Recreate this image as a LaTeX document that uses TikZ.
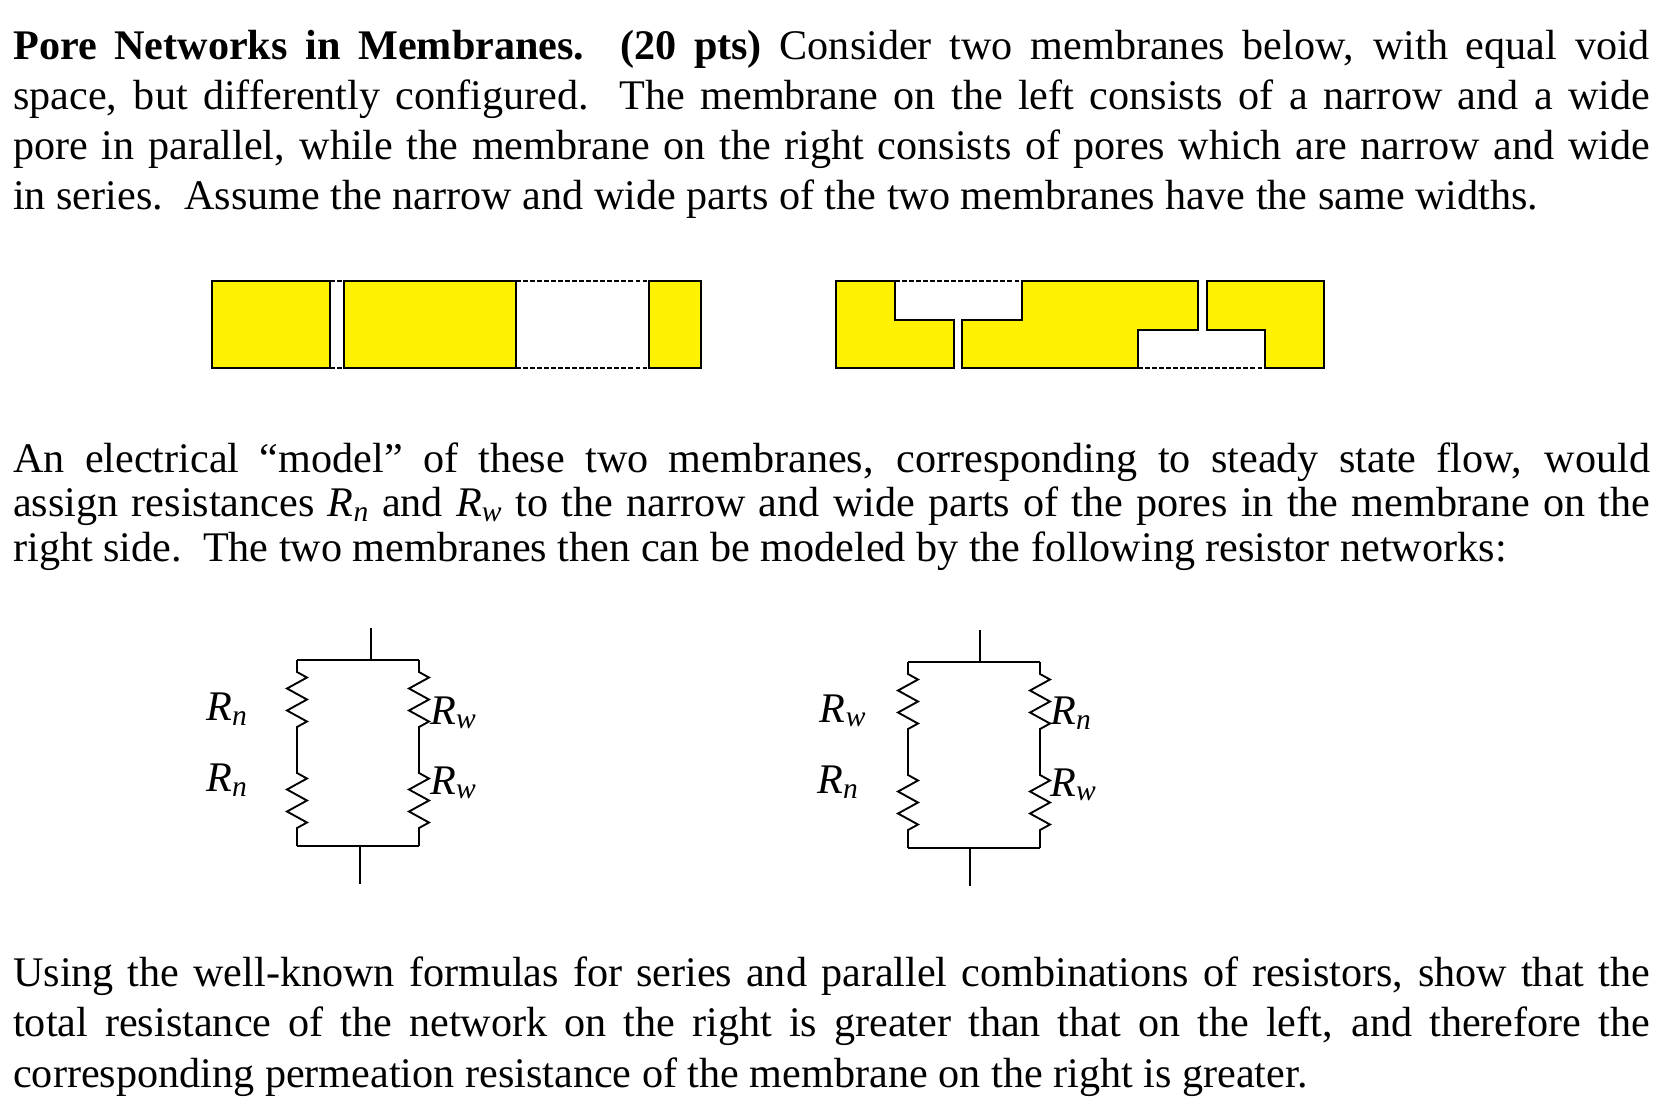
\documentclass[tikz,border=0pt]{standalone}
\usepackage{fontspec}
\setmainfont{Liberation Serif}
\usetikzlibrary{decorations.pathmorphing}
\begin{document}
\begin{tikzpicture}[x=0.03cm,y=-0.03cm,
  mem/.style={draw=black,fill=yellow,line width=2.2pt,line join=miter},
  void/.style={dashed,line width=1.2pt,dash pattern=on 4pt off 2pt},
  wire/.style={line width=1.4pt},
  bar/.style={line width=2.4pt},
  res/.style={line width=1.6pt,decorate,decoration={zigzag,segment length=0.66cm,amplitude=0.3cm,pre length=0.15cm,post length=0.15cm}},
  para/.style={anchor=north west,inner sep=0pt,text width=49.1cm,align=justify,font=\fontsize{36}{42.7}\selectfont},
  lab/.style={font=\fontsize{36}{40}\selectfont\itshape,inner sep=0pt}]
\useasboundingbox (0,0) rectangle (1677,1110);
% text
\node[para] (p1) at (13,30) {\textbf{Pore Networks in Membranes. (20 pts)} Consider two membranes below, with equal void\linebreak space, but differently configured.\ \ The membrane on the left consists of a narrow and a wide\linebreak pore in parallel, while the membrane on the right consists of pores which are narrow and wide\linebreak in series.\ \ Assume the narrow and wide parts of the two membranes have the same widths.};
\node[para,font=\fontsize{36}{37.6}\selectfont] (p2) at (13,443) {An electrical “model” of these two membranes, corresponding to steady state flow, would\linebreak assign resistances \textit{R\textsubscript{n}} and \textit{R\textsubscript{w}} to the narrow and wide parts of the pores in the membrane on the\linebreak right side.\ \ The two membranes then can be modeled by the following resistor networks:};
\node[para] (p3) at (13,957) {Using the well-known formulas for series and parallel combinations of resistors, show that the\linebreak total resistance of the network on the right is greater than that on the left, and therefore the\linebreak corresponding permeation resistance of the membrane on the right is greater.};
% left membrane
\draw[void] (330,281) -- (344,281) (330,368) -- (344,368);
\draw[void] (516,281) -- (649,281) (516,368) -- (649,368);
\draw[mem] (212,281) rectangle (330,368);
\draw[mem] (344,281) rectangle (516,368);
\draw[mem] (649,281) rectangle (701,368);
% right membrane
\draw[void] (895,281) -- (1022,281);
\draw[void] (1138,368) -- (1265,368);
\draw[mem] (836,281) -- (895,281) -- (895,320) -- (954,320) -- (954,368) -- (836,368) -- cycle;
\draw[mem] (962,320) -- (1022,320) -- (1022,281) -- (1198,281) -- (1198,330) -- (1138,330) -- (1138,368) -- (962,368) -- cycle;
\draw[mem] (1207,281) -- (1324,281) -- (1324,368) -- (1265,368) -- (1265,330) -- (1207,330) -- cycle;
% left circuit
\coordinate (la) at (371,628); \coordinate (lb) at (371,660);
\coordinate (l1) at (297,660); \coordinate (l2) at (419,660);
\coordinate (l3) at (297,846); \coordinate (l4) at (419,846);
\coordinate (lc) at (360,846); \coordinate (ld) at (360,884);
\draw[wire] (la) -- (lb); \draw[wire] (lc) -- (ld);
\draw[bar] (l1) -- (l2); \draw[bar] (l3) -- (l4);
\draw[wire] (l1) -- (297,667); \draw[res] (297,667) -- (297,737);
\draw[wire] (297,737) -- (297,768); \draw[res] (297,768) -- (297,838); \draw[wire] (297,838) -- (l3);
\draw[wire] (l2) -- (419,667); \draw[res] (419,667) -- (419,737);
\draw[wire] (419,737) -- (419,768); \draw[res] (419,768) -- (419,838); \draw[wire] (419,838) -- (l4);
\node[lab] (ln1) at (227,709) {R\textsubscript{n}};
\node[lab] (ln2) at (227,780) {R\textsubscript{n}};
\node[lab,anchor=west] (lw1) at (430,713) {R\textsubscript{w}};
\node[lab,anchor=west] (lw2) at (430,783) {R\textsubscript{w}};
% right circuit
\coordinate (ra) at (980,630); \coordinate (rb) at (980,662);
\coordinate (r1) at (908,662); \coordinate (r2) at (1040,662);
\coordinate (r3) at (908,848); \coordinate (r4) at (1040,848);
\coordinate (rc) at (970,848); \coordinate (rd) at (970,886);
\draw[wire] (ra) -- (rb); \draw[wire] (rc) -- (rd);
\draw[bar] (r1) -- (r2); \draw[bar] (r3) -- (r4);
\draw[wire] (r1) -- (908,669); \draw[res] (908,669) -- (908,739);
\draw[wire] (908,739) -- (908,770); \draw[res] (908,770) -- (908,840); \draw[wire] (908,840) -- (r3);
\draw[wire] (r2) -- (1040,669); \draw[res] (1040,669) -- (1040,739);
\draw[wire] (1040,739) -- (1040,770); \draw[res] (1040,770) -- (1040,840); \draw[wire] (1040,840) -- (r4);
\node[lab] (rw1) at (843,711) {R\textsubscript{w}};
\node[lab] (rn1) at (838,782) {R\textsubscript{n}};
\node[lab,anchor=west] (rn2) at (1050,713) {R\textsubscript{n}};
\node[lab,anchor=west] (rw2) at (1050,785) {R\textsubscript{w}};
\end{tikzpicture}
\end{document}
